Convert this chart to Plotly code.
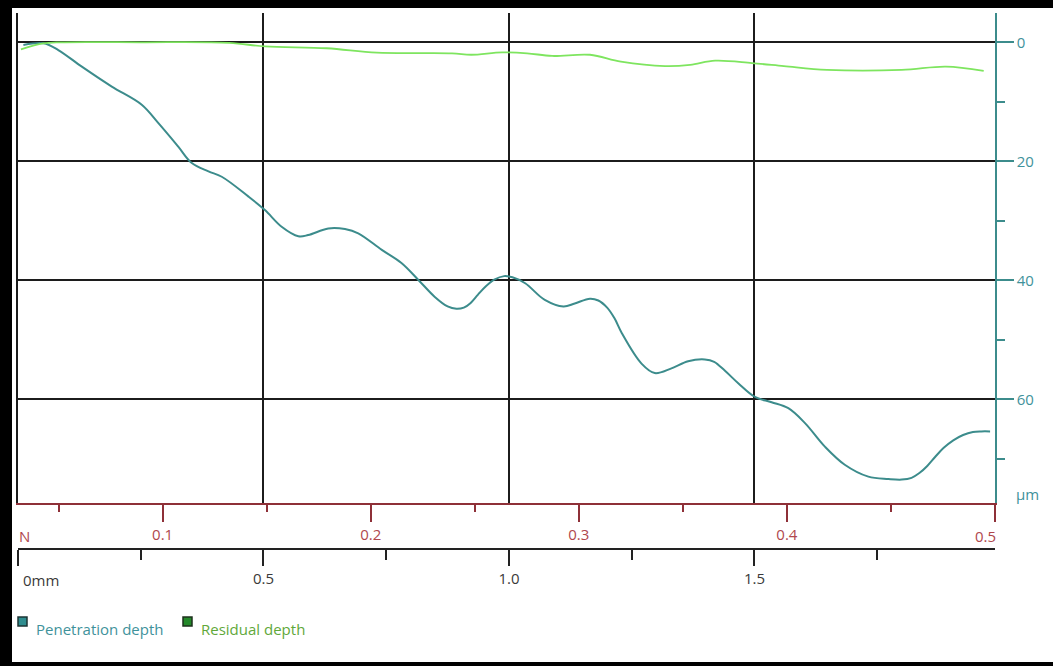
import plotly.graph_objects as go

# Scratch test profile: depth (µm) versus scratch distance (mm)
pen_mm = [0.011, 0.052, 0.082, 0.130, 0.191, 0.252, 0.286, 0.326, 0.354, 0.388,
          0.415, 0.469, 0.503, 0.537, 0.571, 0.591, 0.632, 0.666, 0.693, 0.741,
          0.781, 0.815, 0.849, 0.875, 0.893, 0.908, 0.922, 0.937, 0.953, 0.970,
          0.990, 1.007, 1.033, 1.073, 1.111, 1.134, 1.165, 1.182, 1.200, 1.215,
          1.230, 1.270, 1.297, 1.331, 1.365, 1.399, 1.418, 1.440, 1.467, 1.501,
          1.535, 1.569, 1.603, 1.644, 1.684, 1.732, 1.773, 1.800, 1.820, 1.836,
          1.852, 1.868, 1.885, 1.905, 1.925, 1.945, 1.962, 1.980]
pen_um = [0.45, 0.17, 1.3, 4.1, 7.45, 10.5, 13.6, 17.5, 20.3, 21.7,
          22.6, 25.9, 28.2, 31.0, 32.6, 32.4, 31.3, 31.4, 32.1, 34.9,
          37.1, 39.9, 42.8, 44.4, 44.8, 44.6, 43.8, 42.4, 41.0, 39.9,
          39.3, 39.5, 40.5, 43.3, 44.4, 43.9, 43.1, 43.4, 44.6, 46.4,
          48.9, 54.0, 55.6, 54.8, 53.6, 53.3, 53.7, 55.2, 57.3, 59.6,
          60.5, 61.5, 64.0, 68.0, 71.0, 73.0, 73.4, 73.5, 73.2, 72.4,
          71.2, 69.7, 68.2, 66.9, 66.0, 65.5, 65.4, 65.4]

res_mm = [0.006, 0.051, 0.086, 0.25, 0.43, 0.503, 0.629, 0.731, 0.884, 0.923,
          0.986, 1.037, 1.088, 1.165, 1.228, 1.318, 1.369, 1.420, 1.495, 1.560,
          1.648, 1.800, 1.890, 1.967]
res_um = [1.2, 0.2, 0.0, 0.0, 0.1, 0.7, 1.0, 1.75, 1.85, 2.1,
          1.7, 1.85, 2.3, 2.1, 3.25, 4.0, 3.8, 3.1, 3.5, 4.0,
          4.65, 4.65, 4.1, 4.8]

# Axis ticks
depth_ticks = [0, 20, 40, 60]
depth_minor = [10, 30, 50, 70]
dist_ticks = [0, 0.5, 1.0, 1.5]
dist_labels = ["", "0.5", "1.0", "1.5"]
dist_minor = [0.25, 0.75, 1.25, 1.75]
load_ticks = [0.1, 0.2, 0.3, 0.4, 0.5]
load_labels = ["0.1", "0.2", "0.3", "0.4", ""]
load_minor = [0.05, 0.15, 0.25, 0.35, 0.45]

DIST_RANGE = [0, 1.99]
LOAD_RANGE = [0.0305, 0.50001]
DEPTH_RANGE = [77.43, -4.92]

TEAL = "#3c8c8c"
TEAL_TXT = "#3f929b"
GREEN = "#7ee55f"
GREEN_TXT = "#5fa83a"
RED_LINE = "#8e3038"
RED_TXT = "#b0474d"
GRID = "#1c1c1c"
FONT = "Open Sans"
FS = 15

W, H = 1053, 666
ML, MR, MT, MB = 18, 58, 13, 66
PW, PH = W - ML - MR, H - MT - MB
PLOT_BOTTOM = 503
MM_AXIS_Y = 549


def px_x(px):
    return (px - ML) / PW


def px_y(py):
    return (H - MB - py) / PH


fig = go.Figure()
fig.add_trace(go.Scatter(x=pen_mm, y=pen_um, mode="lines", name="Penetration depth",
                         line=dict(color=TEAL, width=2, shape="spline", smoothing=1.0),
                         showlegend=False))
fig.add_trace(go.Scatter(x=res_mm, y=res_um, mode="lines", name="Residual depth",
                         xaxis="x2",
                         line=dict(color=GREEN, width=1.8, shape="spline", smoothing=1.0),
                         showlegend=False))
# empty trace that registers the load axis and the left frame axis
fig.add_trace(go.Scatter(x=[], y=[], xaxis="x3", yaxis="y2", mode="lines",
                         showlegend=False, hoverinfo="skip"))

fig.update_layout(
    width=W, height=H,
    margin=dict(l=ML, r=MR, t=MT, b=MB, pad=0),
    paper_bgcolor="white", plot_bgcolor="white",
    font=dict(family=FONT, size=FS),
    showlegend=False,
    xaxis=dict(range=DIST_RANGE, tickvals=[0.5, 1.0, 1.5], showgrid=True,
               gridcolor=GRID, gridwidth=1.6, showline=False, ticks="",
               showticklabels=False, zeroline=False, anchor="y"),
    xaxis2=dict(range=DIST_RANGE, overlaying="x", anchor="free",
                position=px_y(MM_AXIS_Y), side="bottom",
                tickvals=dist_ticks, ticktext=dist_labels, ticks="outside",
                ticklen=16, tickwidth=1.5, tickcolor="#222", showline=True,
                linecolor="#222", linewidth=1.5, showgrid=False, zeroline=False,
                tickfont=dict(color="#3a3a3a", size=FS),
                minor=dict(tickvals=dist_minor, ticks="outside", ticklen=10,
                           tickwidth=1.5, tickcolor="#222", showgrid=False)),
    xaxis3=dict(range=LOAD_RANGE, overlaying="x", anchor="y", side="bottom",
                tickvals=load_ticks, ticktext=load_labels, ticks="outside",
                ticklen=17, tickwidth=1.5, tickcolor=RED_LINE, showline=True,
                linecolor=RED_LINE, linewidth=1.5, showgrid=False, zeroline=False,
                tickfont=dict(color=RED_TXT, size=FS),
                minor=dict(tickvals=load_minor, ticks="outside", ticklen=7,
                           tickwidth=1.5, tickcolor=RED_LINE, showgrid=False)),
    yaxis=dict(range=DEPTH_RANGE, domain=[px_y(PLOT_BOTTOM), 1], side="right",
               anchor="x", tickvals=depth_ticks, ticks="outside", ticklen=17,
               tickwidth=1.5, tickcolor=TEAL, showline=True, linecolor=TEAL,
               linewidth=1.5, showgrid=True, gridcolor=GRID, gridwidth=1.6,
               zeroline=False, tickfont=dict(color=TEAL_TXT, size=FS),
               minor=dict(tickvals=depth_minor, ticks="outside", ticklen=8,
                          tickwidth=1.5, tickcolor=TEAL, showgrid=False)),
    yaxis2=dict(range=DEPTH_RANGE, overlaying="y", side="left", anchor="x",
                showline=True, linecolor=GRID, linewidth=1.6, ticks="",
                showticklabels=False, showgrid=False, zeroline=False),
)

# Edge labels of the bottom axes and the depth unit
ann = [
    dict(text="0mm", x=px_x(21), y=px_y(580), xanchor="left", font=dict(color="#3a3a3a")),
    dict(text="N", x=px_x(17), y=px_y(536), xanchor="left", font=dict(color=RED_TXT)),
    dict(text="0.5", x=px_x(998), y=px_y(536), xanchor="right", font=dict(color=RED_TXT)),
    dict(text="µm", x=px_x(1014), y=px_y(494), xanchor="left", font=dict(color=TEAL_TXT)),
    dict(text="Penetration depth", x=px_x(34), y=px_y(629), xanchor="left",
         font=dict(color=TEAL_TXT)),
    dict(text="Residual depth", x=px_x(199), y=px_y(629), xanchor="left",
         font=dict(color=GREEN_TXT)),
]
for a in ann:
    fig.add_annotation(xref="paper", yref="paper", yanchor="middle", showarrow=False,
                       font_family=FONT, font_size=FS, **a)

shapes = [
    # legend swatches
    dict(x0=px_x(18), x1=px_x(27), y0=px_y(617), y1=px_y(626), fillcolor="#2f8d8f",
         line=dict(color="#1d3434", width=1.5)),
    dict(x0=px_x(183), x1=px_x(192), y0=px_y(617), y1=px_y(626), fillcolor="#24892a",
         line=dict(color="#1c301c", width=1.5)),
    # outer frame
    dict(x0=px_x(0), x1=px_x(W), y0=px_y(0), y1=px_y(8), fillcolor="black", line_width=0),
    dict(x0=px_x(0), x1=px_x(12), y0=px_y(0), y1=px_y(H), fillcolor="black", line_width=0),
    dict(x0=px_x(0), x1=px_x(W), y0=px_y(662), y1=px_y(H), fillcolor="black", line_width=0),
]
for s in shapes:
    fig.add_shape(type="rect", xref="paper", yref="paper", layer="above", **s)

fig.write_html("out.html")
